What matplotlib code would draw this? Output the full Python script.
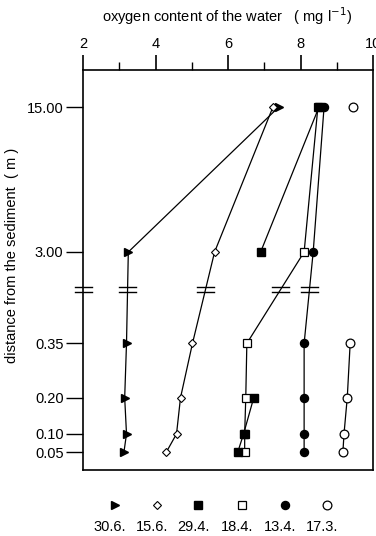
import numpy as np
import matplotlib
matplotlib.use("Agg")
import matplotlib.pyplot as plt
from matplotlib.lines import Line2D

plt.rcParams['font.family'] = ['Liberation Sans', 'DejaVu Sans']

# ---- data ----
distances = [15.00, 3.00, 0.35, 0.20, 0.10, 0.05]
dist_labels = ["15.00", "3.00", "0.35", "0.20", "0.10", "0.05"]
dates = ["30.6.", "15.6.", "29.4.", "18.4.", "13.4.", "17.3."]
s_30_6 = [7.40, 3.25, 3.20, 3.15, 3.20, 3.13]
s_15_6 = [7.24, 5.63, 5.02, 4.69, 4.58, 4.30]
s_29_4 = [8.51, 6.90, np.nan, 6.71, 6.43, 6.27]
s_18_4 = [8.48, 8.10, 6.52, 6.49, 6.46, 6.46]
s_13_4 = [8.65, 8.35, 8.10, 8.10, 8.10, 8.10]
s_17_3 = [9.45, np.nan, 9.37, 9.29, 9.20, 9.17]
series = [s_30_6, s_15_6, s_29_4, s_18_4, s_13_4, s_17_3]
x_ticks = [2, 4, 6, 8, 10]
break_at = 0.5

# ---- styles ----
styles = [
    dict(marker='>', mfc='black', mec='black', ms=5.5),
    dict(marker='D', mfc='white', mec='black', ms=3.8, mew=0.8),
    dict(marker='s', mfc='black', mec='black', ms=5.8),
    dict(marker='s', mfc='white', mec='black', ms=6.2, mew=0.9),
    dict(marker='o', mfc='black', mec='black', ms=5.8),
    dict(marker='o', mfc='white', mec='black', ms=6.3, mew=0.9),
]

# piecewise-linear broken scale
d_pts = np.array([0.0, 0.5, 3.0, 20.0])
p_pts = np.array([-18.1, 162.9, 200.0, 405.4])
def fwd(d):
    return np.interp(np.asarray(d, float), d_pts, p_pts)
def inv(p):
    return np.interp(np.asarray(p, float), p_pts, d_pts)

fig = plt.figure(figsize=(3.76, 5.36), dpi=100)
ax = fig.add_axes([83/376, 1-470/536, 290/376, 400/536])
ax.set_yscale('function', functions=(fwd, inv))
ax.set_xlim(2, 10)
ax.set_ylim(inv(-18), inv(382))

order = [0, 1, 3, 2, 4, 5]
for i in order:
    ax.plot(series[i], distances, color='black', lw=0.9, zorder=3, **styles[i])

ax.xaxis.tick_top()
ax.set_xticks(x_ticks)
ax.set_xticks([3, 5, 7, 9], minor=True)
ax.tick_params(axis='x', which='major', direction='out', length=11, width=1.2,
               labelsize=10.5, pad=3)
ax.tick_params(axis='x', which='minor', direction='out', length=6, width=1.0)
ax.set_yticks(distances)
ax.set_yticklabels(dist_labels)
ax.yaxis.set_minor_locator(matplotlib.ticker.NullLocator())
ax.tick_params(axis='y', direction='out', length=12, width=1.0, labelsize=10.5, pad=2)
for s in ax.spines.values():
    s.set_linewidth(1.2)

# break marks
tr = ax.transData
def break_mark(xv, yv):
    px, py = tr.transform((xv, yv))
    for dy in (-2.5, 2.5):
        a = fig.transFigure.inverted().transform([(px - 8.5, py + dy), (px + 8.5, py + dy)])
        fig.add_artist(Line2D(a[:, 0], a[:, 1], color='black', lw=1.0, zorder=10))

break_mark(2, break_at)
for sv in series:
    if not np.isnan(sv[1]) and not np.isnan(sv[2]):
        p1, p2, pb = fwd(distances[1]), fwd(distances[2]), fwd(break_at)
        t = (pb - p1) / (p2 - p1)
        xb = sv[1] + t * (sv[2] - sv[1])
        break_mark(xb, break_at)

# titles
fig.text(227/376, 1-16/536, r"oxygen content of the water   ( mg l$^{-1}$)",
         ha='center', va='center', fontsize=10.5)
fig.text(12/376, 1-255/536, "distance from the sediment  ( m )", rotation=90,
         ha='center', va='center', fontsize=10.5)

# legend at bottom
leg_x = [115, 157, 198, 242, 285, 327]
for xpix, st, lab in zip(leg_x, styles, dates):
    fig.add_artist(Line2D([xpix/376], [1-505/536], linestyle='none',
                          transform=fig.transFigure, **st))
    fig.text((xpix - 5)/376, 1-527/536, lab, ha='center', va='center', fontsize=10.5)

fig.savefig("out.png", dpi=100)
